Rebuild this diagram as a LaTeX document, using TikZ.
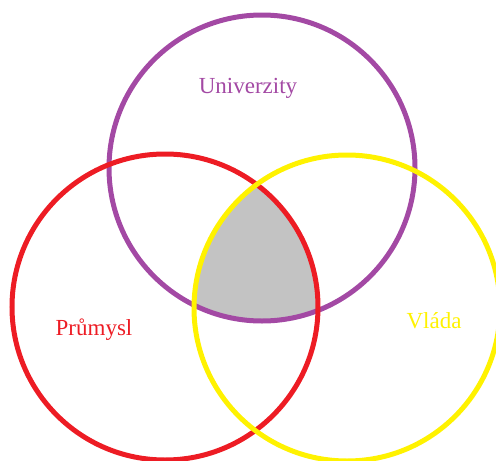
\documentclass[tikz,border=0pt]{standalone}
\usepackage{fontspec}
\setmainfont{Liberation Serif}
\usepackage{xcolor}
\usepackage{tikz}
\usetikzlibrary{positioning}
\definecolor{cfialova}{HTML}{A349A4}
\definecolor{ccervena}{HTML}{ED1C24}
\definecolor{czluta}{HTML}{FFF200}
\definecolor{cseda}{HTML}{C3C3C3}
\tikzset{
  kruh/.style={line width=5pt},
  popis/.style={anchor=base, font=\fontsize{23}{28}\selectfont},
}

\begin{document}
\begin{tikzpicture}[x=1pt, y=-1pt]
  \useasboundingbox (0,0) rectangle (496,461);
  \coordinate (uni) at (262,168);
  \coordinate (prum) at (165,307);
  \coordinate (vlada) at (347,308);
  % spolecny prunik
  \begin{scope}
    \clip (uni) circle (153);
    \clip (prum) circle (153);
    \fill[cseda] (vlada) circle (153);
  \end{scope}
  \draw[kruh, draw=cfialova] (uni) circle (153);
  \draw[kruh, draw=ccervena] (prum) circle (153);
  \draw[kruh, draw=czluta] (vlada) circle (153);
  \node[popis, text=cfialova] (tuni) at (248,93) {Univerzity};
  \node[popis, text=ccervena] (tprum) at (94,335) {Průmysl};
  \node[popis, text=czluta] (tvlada) at (434,328) {Vláda};
\end{tikzpicture}
\end{document}
